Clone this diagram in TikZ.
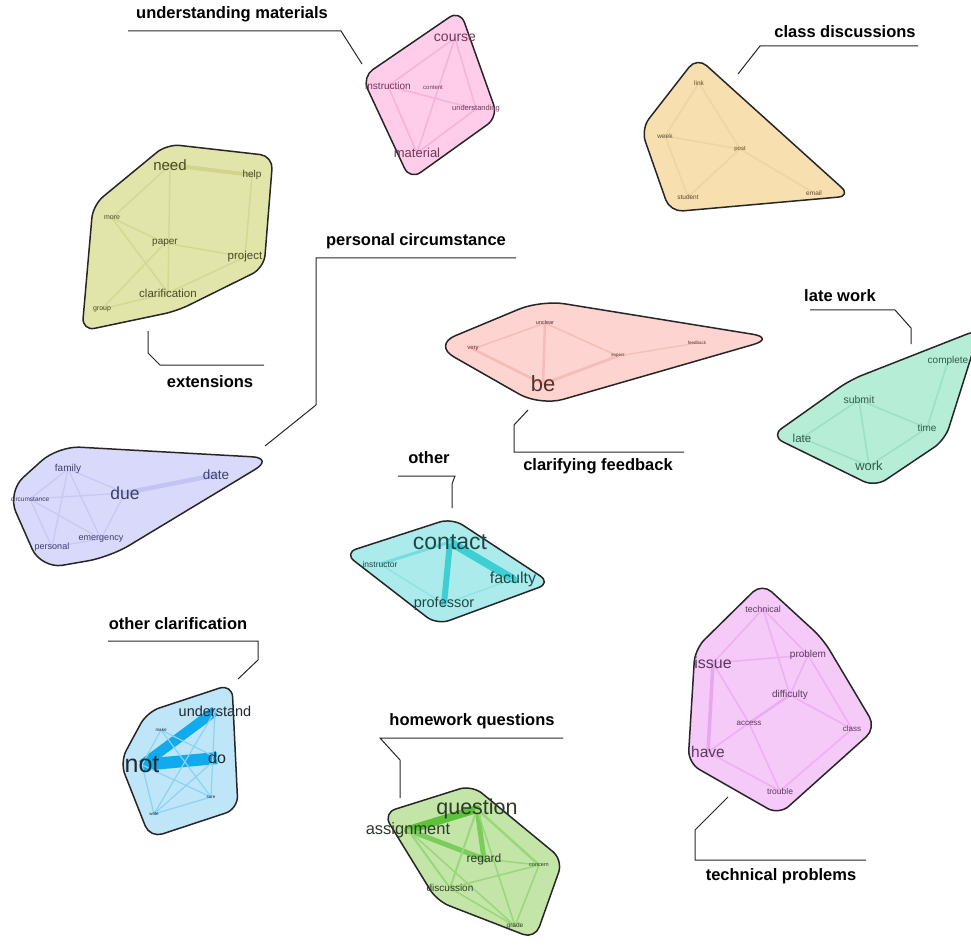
\documentclass[tikz,border=0pt]{standalone}
\usepackage{fontspec}
\setsansfont{Liberation Sans}
\pgfdeclarelayer{hulls}
\pgfdeclarelayer{links}
\pgfsetlayers{hulls,links,main}
% cluster colours: fill, link, text
\definecolor{matF}{HTML}{FFCCE9}\definecolor{matL}{HTML}{F2AAD5}\definecolor{matT}{HTML}{6E3A5C}
\definecolor{disF}{HTML}{F8DFB0}\definecolor{disL}{HTML}{EDD09A}\definecolor{disT}{HTML}{5C4A30}
\definecolor{extF}{HTML}{E2E5AA}\definecolor{extL}{HTML}{D0D48C}\definecolor{extT}{HTML}{4A4A25}
\definecolor{fbkF}{HTML}{FDD4CF}\definecolor{fbkL}{HTML}{F5B6B1}\definecolor{fbkT}{HTML}{5A2E2E}
\definecolor{latF}{HTML}{B6EDD7}\definecolor{latL}{HTML}{94DCC1}\definecolor{latT}{HTML}{2F5C4B}
\definecolor{perF}{HTML}{D9D9FB}\definecolor{perL}{HTML}{C3C3F5}\definecolor{perT}{HTML}{3E3E6E}
\definecolor{othF}{HTML}{ACEBEB}\definecolor{othL}{HTML}{3ECFD3}\definecolor{othT}{HTML}{1E4848}
\definecolor{ocF}{HTML}{BFE5F8}\definecolor{ocL}{HTML}{10AAEE}\definecolor{ocT}{HTML}{202830}
\definecolor{hwF}{HTML}{C3E6A8}\definecolor{hwL}{HTML}{5CC23A}\definecolor{hwT}{HTML}{2E3A28}
\definecolor{tecF}{HTML}{F5C9F8}\definecolor{tecL}{HTML}{E8A6F0}\definecolor{tecT}{HTML}{5C3A60}
\tikzset{
  hull/.style={draw=black!85, line width=1.5pt, rounded corners=13pt, fill=#1},
  w/.style={font=\sffamily\fontsize{#1}{#1}\selectfont, inner sep=0pt},
  lnk/.style={line width=#1, line cap=round},
  tag/.style={font=\sffamily\bfseries\fontsize{16.5}{19}\selectfont},
  leader/.style={draw=black!85, line width=1pt},
}
\begin{document}
\begin{tikzpicture}[x=1pt, y=-1pt]
  \useasboundingbox (0,0) rectangle (971,949);

  % understanding materials
  \begin{pgfonlayer}{hulls}
    \draw[hull=matF] (460,10) -- (498,117) -- (410,180) -- (362,77) -- cycle;
  \end{pgfonlayer}
  \begin{scope}[every node/.append style={text=matT}]
    \node[w=14]  (course)        at (455,38)  {course};
    \node[w=10]  (instruction)   at (388,86)  {instruction};
    \node[w=6]   (content)       at (433,88)  {content};
    \node[w=7.5] (understanding) at (476,109) {understanding};
    \node[w=13]  (material)      at (417,153) {material};
  \end{scope}
  \begin{pgfonlayer}{links}
    \foreach \a/\b in {course/instruction, course/material, course/understanding,
        instruction/understanding, instruction/material, material/understanding}
      \draw[lnk=1.6pt, matL!70!matF] (\a.center) -- (\b.center);
  \end{pgfonlayer}
  \node[tag] (tagmat) at (232,14) {understanding materials};
  \draw[leader] (128,31) -- (341,31) -- (362,64);

  % class discussions
  \begin{pgfonlayer}{hulls}
    \draw[hull=disF] (697,57) -- (851,196) -- (670,212) -- (641,129) -- cycle;
  \end{pgfonlayer}
  \begin{scope}[every node/.append style={text=disT}]
    \node[w=6.5] (link)    at (699,83)  {link};
    \node[w=6.5] (week)    at (665,136) {week};
    \node[w=6]   (post)    at (740,149) {post};
    \node[w=6.5] (student) at (688,197) {student};
    \node[w=6.5] (email)   at (814,193) {email};
  \end{scope}
  \begin{pgfonlayer}{links}
    \foreach \a/\b in {link/week, link/post, week/post, week/student, student/post, post/email}
      \draw[lnk=1.6pt, disL!70!disF] (\a.center) -- (\b.center);
  \end{pgfonlayer}
  \node[tag] (tagdis) at (845,32) {class discussions};
  \draw[leader] (918,46) -- (760,46) -- (738,74);

  % extensions
  \begin{pgfonlayer}{hulls}
    \draw[hull=extF] (167,144) -- (273,156) -- (264,268) -- (177,311) -- (82,331) -- (93,205) -- cycle;
  \end{pgfonlayer}
  \begin{scope}[every node/.append style={text=extT}]
    \node[w=15]   (need)          at (170,165) {need};
    \node[w=10]   (help)          at (252,175) {help};
    \node[w=7]    (more)          at (112,218) {more};
    \node[w=10]   (paper)         at (165,243) {paper};
    \node[w=11.5] (project)       at (245,257) {project};
    \node[w=11.5] (clarification) at (168,293) {clarification};
    \node[w=7]    (group)         at (102,309) {group};
  \end{scope}
  \begin{pgfonlayer}{links}
    \draw[lnk=4pt, extL] (need.center) -- (help.center);
    \foreach \a/\b in {help/project, need/more, need/clarification, more/paper, more/clarification,
        paper/project, paper/group, clarification/project, clarification/group}
      \draw[lnk=1.5pt, extL!75!extF] (\a.center) -- (\b.center);
  \end{pgfonlayer}
  \node[tag] (tagext) at (210,382) {extensions};
  \draw[leader] (264,365) -- (160,365) -- (148,353) -- (148,331);

  % clarifying feedback
  \begin{pgfonlayer}{hulls}
    \draw[hull=fbkF, rounded corners=24pt] (541,300) -- (776,338) -- (540,406) -- (433,345) -- cycle;
  \end{pgfonlayer}
  \begin{scope}[every node/.append style={text=fbkT}]
    \node[w=5.5] (unclear)  at (545,323) {unclear};
    \node[w=6]   (very)     at (473,349) {very};
    \node[w=4.5] (expect)   at (618,356) {expect};
    \node[w=4.5] (feedback) at (697,343) {feedback};
    \node[w=22]  (be)       at (543,384) {be};
  \end{scope}
  \begin{pgfonlayer}{links}
    \foreach \a/\b/\t in {very/unclear/1.5, very/be/2.5, unclear/be/2.5, unclear/expect/1.5,
        be/expect/2.8, expect/feedback/1.2}
      \draw[lnk=\t pt, fbkL!80!fbkF] (\a.center) -- (\b.center);
  \end{pgfonlayer}
  \node[tag] (tagfbk) at (598,466) {clarifying feedback};
  \draw[leader] (684,452) -- (514,452) -- (514,425) -- (528,410);

  % late work
  \begin{pgfonlayer}{hulls}
    \draw[hull=latF] (850,380) -- (980,329) -- (945,440) -- (875,487) -- (771,436) -- cycle;
  \end{pgfonlayer}
  \begin{scope}[every node/.append style={text=latT}]
    \node[w=10]   (complete) at (948,361) {complete};
    \node[w=10.5] (submit)   at (859,400) {submit};
    \node[w=11.5] (late)     at (802,438) {late};
    \node[w=10]   (time)     at (927,428) {time};
    \node[w=13]   (work)     at (869,466) {work};
  \end{scope}
  \begin{pgfonlayer}{links}
    \foreach \a/\b in {submit/late, submit/work, submit/time, late/work, work/time, time/complete}
      \draw[lnk=1.6pt, latL!75!latF] (\a.center) -- (\b.center);
  \end{pgfonlayer}
  \node[tag] (taglat) at (840,296) {late work};
  \draw[leader] (810,310) -- (895,310) -- (911,328) -- (911,344);

  % personal circumstance
  \begin{pgfonlayer}{hulls}
    \draw[hull=perF, rounded corners=22pt] (58,446) -- (274,458) -- (110,557) -- (41,569) -- (7,492) -- cycle;
  \end{pgfonlayer}
  \begin{scope}[every node/.append style={text=perT}]
    \node[w=10]   (family)       at (68,469)  {family};
    \node[w=13.5] (date)         at (216,475) {date};
    \node[w=17.5] (due)          at (125,493) {due};
    \node[w=6.5]  (circumstance) at (30,499)  {circumstance};
    \node[w=9]    (emergency)    at (101,539) {emergency};
    \node[w=9]    (personal)     at (52,547)  {personal};
  \end{scope}
  \begin{pgfonlayer}{links}
    \draw[lnk=4.5pt, perL] (due.center) -- (date.center);
    \foreach \a/\b in {family/circumstance, family/due, family/personal, family/emergency,
        circumstance/due, circumstance/emergency, circumstance/personal, personal/emergency, emergency/due}
      \draw[lnk=1.3pt, perL!75!perF] (\a.center) -- (\b.center);
  \end{pgfonlayer}
  \node[tag] (tagper) at (416,241) {personal circumstance};
  \draw[leader] (516,258) -- (316,258) -- (316,405) -- (265,446);

  % other
  \begin{pgfonlayer}{hulls}
    \draw[hull=othF] (452,518) -- (551,583) -- (437,625) -- (344,553) -- cycle;
  \end{pgfonlayer}
  \begin{scope}[every node/.append style={text=othT}]
    \node[w=23]  (contact)    at (450,542) {contact};
    \node[w=8.5] (instructor) at (380,564) {instructor};
    \node[w=16]  (faculty)    at (513,579) {faculty};
    \node[w=14.5](professor)  at (444,604) {professor};
  \end{scope}
  \begin{pgfonlayer}{links}
    \draw[lnk=8pt, othL] (contact.center) -- (faculty.center);
    \draw[lnk=6pt, othL] (contact.center) -- (professor.center);
    \draw[lnk=3pt, othL!50!othF] (contact.center) -- (instructor.center);
    \draw[lnk=1.2pt, othL!30!othF] (instructor.center) -- (professor.center) -- (faculty.center);
  \end{pgfonlayer}
  \node[tag] (tagoth) at (429,458) {other};
  \draw[leader] (398,476) -- (455,476) -- (452,484) -- (452,508);

  % other clarification
  \begin{pgfonlayer}{hulls}
    \draw[hull=ocF] (232,684) -- (238,809) -- (150,838) -- (120,762) -- (147,712) -- cycle;
  \end{pgfonlayer}
  \begin{scope}[every node/.append style={text=ocT}]
    \node[w=14.5] (understand) at (215,711) {understand};
    \node[w=4.5]  (make)       at (161,730) {make};
    \node[w=25]   (not)        at (142,765) {not};
    \node[w=16]   (do)         at (217,758) {do};
    \node[w=4.5]  (sure)       at (211,797) {sure};
    \node[w=4.5]  (write)      at (154,814) {write};
  \end{scope}
  \begin{pgfonlayer}{links}
    \draw[lnk=10pt, ocL, line cap=butt] (not.center) -- (understand.center);
    \draw[lnk=12pt, ocL, line cap=butt] (not.center) -- (do.center);
    \foreach \a/\b in {make/not, make/do, not/write, not/sure, understand/sure, do/write,
        make/sure, write/sure, understand/write}
      \draw[lnk=1.2pt, ocL!30!ocF] (\a.center) -- (\b.center);
  \end{pgfonlayer}
  \node[tag] (tagoc) at (178,624) {other clarification};
  \draw[leader] (108,641) -- (258,641) -- (258,660) -- (238,679);

  % homework questions
  \begin{pgfonlayer}{hulls}
    \draw[hull=hwF] (472,785) -- (563,860) -- (535,939) -- (437,901) -- (383,813) -- cycle;
  \end{pgfonlayer}
  \begin{scope}[every node/.append style={text=hwT}]
    \node[w=21.5] (question)   at (477,809) {question};
    \node[w=16.5] (assignment) at (408,830) {assignment};
    \node[w=12]   (regard)     at (484,859) {regard};
    \node[w=5.5]  (concern)    at (539,865) {concern};
    \node[w=10]   (discussion) at (450,888) {discussion};
    \node[w=6.5]  (grade)      at (515,926) {grade};
  \end{scope}
  \begin{pgfonlayer}{links}
    \draw[lnk=8pt, hwL] (question.center) -- (assignment.center);
    \draw[lnk=5pt, hwL!70!hwF] (assignment.center) -- (regard.center) -- (question.center);
    \foreach \a/\b/\t in {question/discussion/2, question/concern/2.5, question/grade/1.5,
        assignment/discussion/2, regard/concern/1.5, discussion/concern/1.5,
        discussion/grade/1.5, concern/grade/1.5, assignment/grade/1.5}
      \draw[lnk=\t pt, hwL!40!hwF] (\a.center) -- (\b.center);
  \end{pgfonlayer}
  \node[tag] (taghw) at (472,721) {homework questions};
  \draw[leader] (563,738) -- (380,738) -- (400,760) -- (400,798);

  % technical problems
  \begin{pgfonlayer}{hulls}
    \draw[hull=tecF] (762,583) -- (823,639) -- (876,728) -- (779,815) -- (688,763) -- (695,649) -- cycle;
  \end{pgfonlayer}
  \begin{scope}[every node/.append style={text=tecT}]
    \node[w=9]  (technical)  at (763,609) {technical};
    \node[w=16] (issue)      at (713,663) {issue};
    \node[w=10] (problem)    at (808,655) {problem};
    \node[w=10] (difficulty) at (790,695) {difficulty};
    \node[w=8]  (access)     at (749,723) {access};
    \node[w=8]  (class)      at (852,729) {class};
    \node[w=15.5] (have)     at (708,752) {have};
    \node[w=8.5] (trouble)   at (780,791) {trouble};
  \end{scope}
  \begin{pgfonlayer}{links}
    \draw[lnk=3.5pt, tecL] (issue.center) -- (have.center);
    \draw[lnk=2.5pt, tecL!80!tecF] (difficulty.center) -- (access.center);
    \foreach \a/\b in {technical/issue, technical/problem, technical/difficulty, issue/problem,
        issue/access, problem/difficulty, problem/class, access/have, access/trouble,
        have/trouble, class/trouble, difficulty/class}
      \draw[lnk=1.5pt, tecL!70!tecF] (\a.center) -- (\b.center);
  \end{pgfonlayer}
  \node[tag] (tagtec) at (781,876) {technical problems};
  \draw[leader] (866,860) -- (695,860) -- (695,830) -- (728,797);
\end{tikzpicture}
\end{document}
